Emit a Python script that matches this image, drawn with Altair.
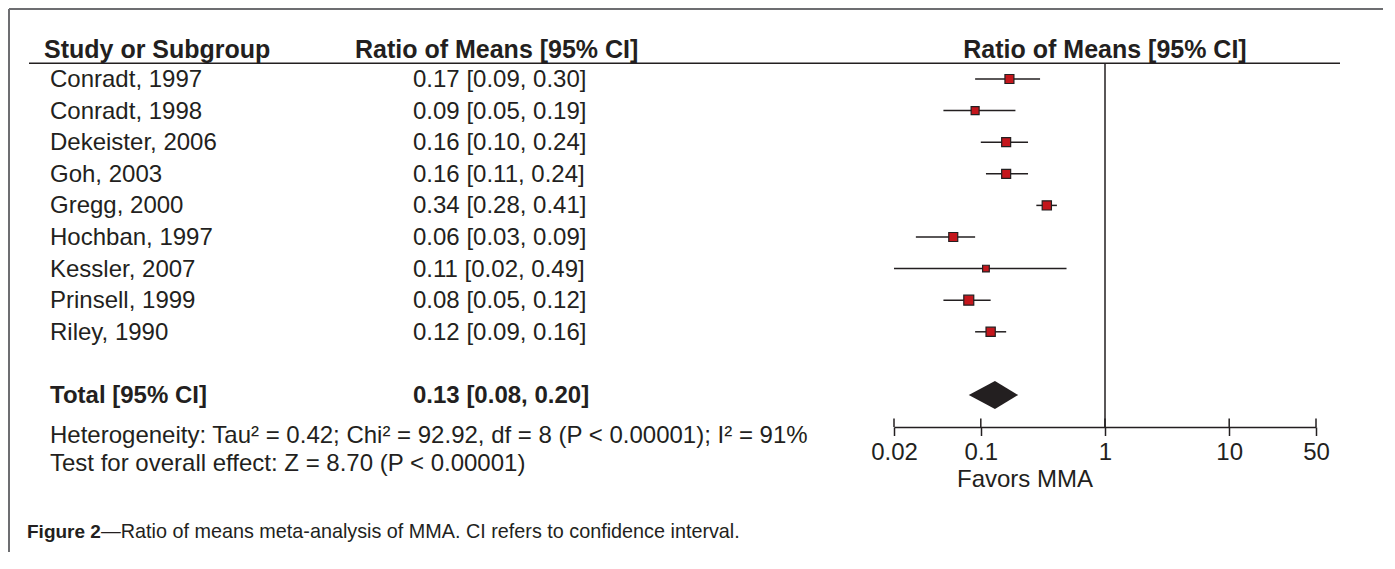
import altair as alt
import pandas as pd

# ---------------- data ----------------
studies = ["Conradt, 1997", "Conradt, 1998", "Dekeister, 2006", "Goh, 2003",
           "Gregg, 2000", "Hochban, 1997", "Kessler, 2007", "Prinsell, 1999",
           "Riley, 1990"]
ratio = [0.17, 0.09, 0.16, 0.16, 0.34, 0.06, 0.11, 0.08, 0.12]
ci_low = [0.09, 0.05, 0.10, 0.11, 0.28, 0.03, 0.02, 0.05, 0.09]
ci_high = [0.30, 0.19, 0.24, 0.24, 0.41, 0.09, 0.49, 0.12, 0.16]
weights = [11.5, 9.1, 11.5, 11.5, 12.2, 11.5, 6.4, 14.2, 12.2]

total_label = "Total [95% CI]"
total_ratio = [0.13]
total_low = [0.08]
total_high = [0.20]

tick_values = [0.02, 0.1, 1, 10, 50]

header_study = "Study or Subgroup"
header_ratio = "Ratio of Means [95% CI]"
het_text = "Heterogeneity: Tau\u00b2 = 0.42; Chi\u00b2 = 92.92, df = 8 (P < 0.00001); I\u00b2 = 91%"
test_text = "Test for overall effect: Z = 8.70 (P < 0.00001)"
favors_text = "Favors MMA"
caption_bold = "Figure 2"
caption_rest = "\u2014Ratio of means meta-analysis of MMA. CI refers to confidence interval."

# ---------------- styles ----------------
INK = "#231f20"
RED = "#c4161c"
FONT = "Liberation Sans, Arial, Helvetica, sans-serif"
FS = 24
HFS = 25

W, H = 1375, 419
AXIS_Y = H

xscale = alt.Scale(type="log", domain=[0.02, 50], range=[886, 1308])
yscale = alt.Scale(domain=[0, 10], range=[71, 387])

df = pd.DataFrame({
    "study": studies, "ratio": ratio, "lo": ci_low, "hi": ci_high,
    "w": weights, "row": list(range(len(studies))),
})
df["label"] = [f"{r:.2f} [{l:.2f}, {h:.2f}]" for r, l, h in zip(ratio, ci_low, ci_high)]

total_row = 10
half = 14 / 31.6
dtot = pd.DataFrame({
    "x": [total_low[0], total_ratio[0], total_high[0]],
    "top": [total_row, total_row - half, total_row],
    "bot": [total_row, total_row + half, total_row],
})
tot_text = pd.DataFrame({
    "row": [total_row],
    "name": [total_label],
    "label": [f"{total_ratio[0]:.2f} [{total_low[0]:.2f}, {total_high[0]:.2f}]"],
})

one = pd.DataFrame({"a": [0]})
ticks_df = pd.DataFrame({"t": tick_values})

axis = alt.Axis(values=tick_values, format="~g", title=None, grid=False,
                domain=True, domainColor=INK, domainWidth=1.5,
                ticks=True, tickSize=8.5, tickWidth=1.5, tickColor=INK,
                labelFont=FONT, labelFontSize=FS, labelColor=INK,
                labelPadding=23.5, labelBaseline="alphabetic",
                labelFlush=False, labelOverlap=False)

ci = alt.Chart(df).mark_rule(color=INK, strokeWidth=1.5).encode(
    x=alt.X("lo:Q", scale=xscale, axis=axis),
    x2="hi:Q",
    y=alt.Y("row:Q", scale=yscale, axis=None),
)

upticks = alt.Chart(ticks_df).mark_rule(color=INK, strokeWidth=1.5).encode(
    x=alt.X("t:Q", scale=xscale),
    y=alt.value(AXIS_Y - 8.5),
    y2=alt.value(AXIS_Y),
)

squares = alt.Chart(df).mark_square(fill=RED, stroke=INK, strokeWidth=1.2,
                                    opacity=1, filled=True).encode(
    x=alt.X("ratio:Q", scale=xscale),
    y=alt.Y("row:Q", scale=yscale),
    size=alt.Size("w:Q", scale=alt.Scale(domain=[0, 10], range=[0, 70]), legend=None),
)

diamond = alt.Chart(dtot).mark_area(color=INK, opacity=1).encode(
    x=alt.X("x:Q", scale=xscale),
    y=alt.Y("top:Q", scale=yscale),
    y2="bot:Q",
)

null_line = alt.Chart(pd.DataFrame({"x": [1]})).mark_rule(color=INK, strokeWidth=1.5).encode(
    x=alt.X("x:Q", scale=xscale),
    y=alt.value(55.3),
    y2=alt.value(AXIS_Y),
)

header_line = alt.Chart(one).mark_rule(color=INK, strokeWidth=1.5).encode(
    x=alt.value(21), x2=alt.value(1332), y=alt.value(55.3)
)

border_top = alt.Chart(one).mark_rule(color="#6d6e71", strokeWidth=2).encode(
    x=alt.value(1), x2=alt.value(W), y=alt.value(1)
)
border_left = alt.Chart(one).mark_rule(color="#6d6e71", strokeWidth=2).encode(
    x=alt.value(1), y=alt.value(1), y2=alt.value(H + 125)
)

def txt(text, x, y, bold=False, align="left", size=FS):
    return alt.Chart(one).mark_text(
        text=text, align=align, baseline="alphabetic", font=FONT, fontSize=size,
        fontWeight="bold" if bold else "normal", color=INK,
    ).encode(x=alt.value(x), y=alt.value(y))

h1 = txt(header_study, 36, 49.5, bold=True, size=HFS)
h2 = txt(header_ratio, 347, 49.5, bold=True, size=HFS)
h3 = alt.Chart(pd.DataFrame({"x": [1]})).mark_text(
    text=header_ratio, align="center", baseline="alphabetic", font=FONT,
    fontSize=HFS, fontWeight="bold", color=INK,
).encode(x=alt.X("x:Q", scale=xscale), y=alt.value(49.5))

names = alt.Chart(df).mark_text(align="left", baseline="alphabetic", dy=8,
                                font=FONT, fontSize=FS, color=INK).encode(
    x=alt.value(42), y=alt.Y("row:Q", scale=yscale), text="study:N")
labels = alt.Chart(df).mark_text(align="left", baseline="alphabetic", dy=8,
                                 font=FONT, fontSize=FS, color=INK).encode(
    x=alt.value(405), y=alt.Y("row:Q", scale=yscale), text="label:N")

tot_name = alt.Chart(tot_text).mark_text(align="left", baseline="alphabetic", dy=8,
                                         font=FONT, fontSize=FS, fontWeight="bold",
                                         color=INK).encode(
    x=alt.value(42), y=alt.Y("row:Q", scale=yscale), text="name:N")
tot_lab = alt.Chart(tot_text).mark_text(align="left", baseline="alphabetic", dy=8,
                                        font=FONT, fontSize=FS, fontWeight="bold",
                                        color=INK).encode(
    x=alt.value(405), y=alt.Y("row:Q", scale=yscale), text="label:N")

het = txt(het_text, 42, 435)
test = txt(test_text, 42, 463)
favors = txt(favors_text, 1017, 479, align="center")
cap1 = txt(caption_bold, 19, 530, bold=True, size=19)
cap2 = txt(caption_rest, 93, 530, size=19.8)

chart = alt.layer(
    border_top, border_left, header_line, null_line, ci, upticks, squares, diamond,
    h1, h2, h3, names, labels, tot_name, tot_lab, het, test, favors, cap1, cap2,
).properties(
    width=W, height=H,
    autosize=alt.AutoSizeParams(type="none"),
    padding={"left": 0, "top": 0, "right": 0, "bottom": 125},
).configure_view(stroke=None)

chart.save("out.html", embed_options={"renderer": "svg", "actions": False})
